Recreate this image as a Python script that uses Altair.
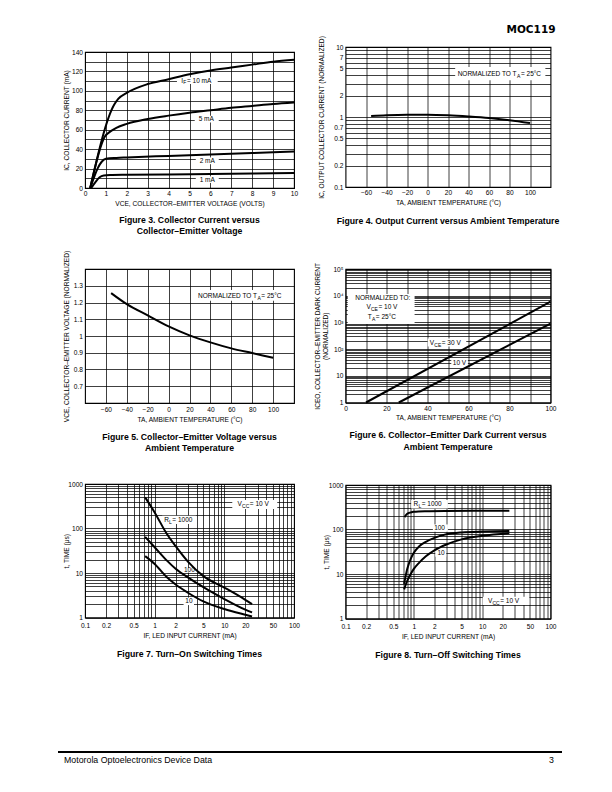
import altair as alt
import pandas as pd

FONT = "Liberation Sans"
HFONT = "DejaVu Sans"
LS = 6.6   # tick labels
TS = 6.6   # axis titles
CS = 8.7   # captions
AS = 6.5   # annotations
SUB = 5.0  # subscript size

# ---------------- page text ----------------
header_text = ["MOC119"]
footer_left = ["Motorola Optoelectronics Device Data"]
footer_right = ["3"]

# ---------------- Figure 3 ----------------
f3_x_10 = [0.25, 1.4, 1.6, 2, 3, 4, 5, 6, 7, 8, 9, 10]
f3_y_10 = [0, 86, 92, 98, 107, 112, 117, 121, 124, 127, 130, 132]
f3_x_5 = [0.25, 0.95, 1.2, 1.5, 2, 3, 4, 5, 6, 7, 8, 9, 10]
f3_y_5 = [0, 53, 58, 62, 66, 71, 74.5, 77.5, 80, 82.5, 84.5, 86.5, 88]
f3_x_2 = [0.25, 0.45, 0.6, 0.8, 1.0, 1.5, 2, 4, 6, 8, 10]
f3_y_2 = [0, 12, 20, 27, 30, 31, 31.5, 33, 34.5, 36, 37.5]
f3_x_1 = [0.3, 0.5, 0.7, 0.9, 1.2, 2, 4, 6, 8, 10]
f3_y_1 = [0, 6, 11, 12.8, 13.3, 13.6, 14, 14.5, 15, 15.5]
f3_xticks = [0, 1, 2, 3, 4, 5, 6, 7, 8, 9, 10]
f3_ygrid = [0, 10, 20, 30, 40, 50, 60, 70, 80, 90, 100, 110, 120, 130, 140]
f3_lbl_pre = ["I", "5 mA", "2 mA", "1 mA"]
f3_lbl_sub = ["F", "", "", ""]
f3_lbl_post = [" = 10 mA", "", "", ""]
f3_lbl_x = [5.37, 5.8, 5.85, 5.85]
f3_lbl_y = [110.5, 71, 28, 8.6]
f3_box_x1 = [4.4, 5.25, 5.3, 5.3]
f3_box_x2 = [6.35, 6.4, 6.4, 6.4]
f3_box_y1 = [107, 67.5, 24.5, 5.2]
f3_box_y2 = [114, 74.5, 31.5, 12]

# ---------------- Figure 4 ----------------
f4_t = [-55, -40, -20, 0, 20, 40, 60, 80, 100]
f4_ic = [1.03, 1.06, 1.08, 1.08, 1.06, 1.02, 0.97, 0.9, 0.82]
f4_xticks = [-60, -40, -20, 0, 20, 40, 60, 80, 100]
f4_ygrid = [0.1, 0.2, 0.3, 0.4, 0.5, 0.6, 0.7, 0.8, 0.9, 1, 2, 3, 4, 5, 6, 7, 8, 9, 10]
f4_ylabels = [0.1, 0.2, 0.5, 0.7, 1, 2, 5, 7, 10]
f4_lbl_pre = ["NORMALIZED TO T"]
f4_lbl_sub = ["A"]
f4_lbl_post = [" = 25°C"]
f4_lbl_x = [71]
f4_lbl_y = [4.1]
f4_box_x1 = [27]
f4_box_x2 = [115]
f4_box_y1 = [3.35]
f4_box_y2 = [5.2]

# ---------------- Figure 5 ----------------
f5_t = [-55, -40, -20, 0, 20, 40, 60, 80, 100]
f5_v = [1.256, 1.19, 1.123, 1.057, 1.004, 0.962, 0.926, 0.898, 0.87]
f5_xticks = [-60, -40, -20, 0, 20, 40, 60, 80, 100]
f5_yticks = [0.7, 0.8, 0.9, 1, 1.1, 1.2, 1.3]
f5_lbl_pre = ["NORMALIZED TO T"]
f5_lbl_sub = ["A"]
f5_lbl_post = [" = 25°C"]
f5_lbl_x = [69]
f5_lbl_y = [1.24]
f5_box_x1 = [26]
f5_box_x2 = [112]
f5_box_y1 = [1.21]
f5_box_y2 = [1.275]

# ---------------- Figure 6 ----------------
f6_t_30 = [10, 100]
f6_i_30 = [1, 6000]
f6_t_10 = [26, 100]
f6_i_10 = [1, 900]
f6_xgrid = [0, 10, 20, 30, 40, 50, 60, 70, 80, 90, 100]
f6_ygrid = [1, 2, 3, 4, 5, 6, 7, 8, 9,
            10, 20, 30, 40, 50, 60, 70, 80, 90,
            100, 200, 300, 400, 500, 600, 700, 800, 900,
            1000, 2000, 3000, 4000, 5000, 6000, 7000, 8000, 9000,
            10000, 20000, 30000, 40000, 50000, 60000, 70000, 80000, 90000, 100000]
f6_ylabel_v = [1, 10, 100, 1000, 10000, 100000]
f6_ylabel_t = ["1", "10", "10²", "10³", "10⁴", "10⁵"]
f6_lbl_pre = ["NORMALIZED TO:", "V", "T", "V", "10 V"]
f6_lbl_sub = ["", "CE", "A", "CE", ""]
f6_lbl_post = ["", " = 10 V", " = 25°C", " = 30 V", ""]
f6_lbl_x = [18.2, 18.2, 18.2, 49.1, 55.6]
f6_lbl_y = [8100, 3800, 1550, 170, 29]
f6_box_x1 = [1.1, 40.1, 51.6]
f6_box_x2 = [33.7, 58.9, 59.7]
f6_box_y1 = [870, 126, 21]
f6_box_y2 = [11500, 250, 42]

# ---------------- Figure 7 ----------------
f7_if = [0.73, 1, 1.5, 2, 3, 5, 10, 20, 25]
f7_t_1000 = [500, 230, 75, 40, 18, 8.5, 4.7, 2.5, 2.0]
f7_t_100 = [65, 38, 19, 12.5, 8, 4.8, 2.6, 1.5, 1.3]
f7_t_10 = [24, 16, 8, 5.5, 3.6, 2.3, 1.55, 1.15, 1.05]
f7_lbl_pre = ["R", "100", "10", "V"]
f7_lbl_sub = ["L", "", "", "CC"]
f7_lbl_post = [" = 1000", "", "", " = 10 V"]
f7_lbl_x = [2.25, 3.15, 3.1, 26.7]
f7_lbl_y = [157, 11.6, 2.3, 347]
f7_box_x1 = [1.28, 2.75, 2.6, 13]
f7_box_x2 = [3.9, 3.6, 3.67, 57.5]
f7_box_y1 = [126, 10.2, 1.9, 275]
f7_box_y2 = [194, 13.0, 2.8, 437]

# ---------------- Figure 8 ----------------
f8_if_1000 = [0.73, 0.8, 0.9, 1.0, 1.5, 3, 10, 25]
f8_t_1000 = [190, 225, 242, 250, 258, 262, 264, 265]
f8_if = [0.72, 0.8, 0.9, 1.0, 1.2, 1.5, 2, 3, 5, 10, 25]
f8_t_100 = [6, 13, 22, 30, 42, 53, 65, 78, 86, 90, 92]
f8_t_10 = [4.5, 7, 10, 13, 18, 25, 34, 46, 60, 72, 82]
f8_lbl_pre = ["R", "100", "10", "V"]
f8_lbl_sub = ["L", "", "", "CC"]
f8_lbl_post = [" = 1000", "", "", " = 10 V"]
f8_lbl_x = [1.64, 2.38, 2.5, 21.2]
f8_lbl_y = [374, 110, 30, 2.45]
f8_box_x1 = [0.915, 1.9, 2.06, 10.2]
f8_box_x2 = [3.15, 3.15, 2.98, 49]
f8_box_y1 = [298, 89, 24.5, 2.0]
f8_box_y2 = [460, 130, 36, 3.07]

LOGX_GRID = [0.1, 0.2, 0.3, 0.4, 0.5, 0.6, 0.7, 0.8, 0.9,
             1, 2, 3, 4, 5, 6, 7, 8, 9,
             10, 20, 30, 40, 50, 60, 70, 80, 90, 100]
LOGX_LABELS = [0.1, 0.2, 0.5, 1, 2, 5, 10, 20, 50, 100]
LOGY_GRID = [1, 2, 3, 4, 5, 6, 7, 8, 9,
             10, 20, 30, 40, 50, 60, 70, 80, 90,
             100, 200, 300, 400, 500, 600, 700, 800, 900, 1000]
LOGY_LABELS = [1, 10, 100, 1000]

# Arial / Liberation Sans advance widths (em) used to centre the split labels
AW = {"A": .667, "C": .722, "D": .722, "E": .667, "F": .611, "I": .278, "L": .556,
      "M": .833, "N": .722, "O": .778, "R": .722, "T": .611, "V": .667, "Z": .611,
      " ": .278, "=": .584, "m": .833, "°": .4, ":": .278}


def tw(s, size):
    return sum(AW.get(c, .556) for c in s) * size


def show_only(vals):
    return "indexof([" + ",".join(repr(v) for v in vals) + "], datum.value) >= 0 ? datum.label : ''"


def lines_df(series):
    rows = []
    for name, xs, ys in series:
        for a, b in zip(xs, ys):
            rows.append({"x": a, "y": b, "s": name})
    return pd.DataFrame(rows)


def caption(lines, off):
    return alt.TitleParams(text=lines, orient="bottom", anchor="middle", frame="group",
                           font=FONT, fontSize=CS, fontWeight="bold", color="black",
                           offset=off, lineHeight=11.5)


def label_layers(pre, sub, post, lx, ly, X, Y):
    out = []
    for p, s, q, a, b in zip(pre, sub, post, lx, ly):
        df = pd.DataFrame({"x": [a], "y": [b], "p": [p], "s": [s], "q": [q]})
        if not s:
            out.append(alt.Chart(df).mark_text(font=FONT, fontSize=AS, color="black",
                                               align="center", baseline="middle").encode(
                x=X, y=Y, text="p:N"))
            continue
        w1, w2, w3 = tw(p, AS), tw(s, SUB) + 0.7, tw(q, AS)
        start = -(w1 + w2 + w3) / 2
        out.append(alt.Chart(df).mark_text(font=FONT, fontSize=AS, color="black", align="left",
                                           baseline="middle", dx=start).encode(x=X, y=Y, text="p:N"))
        out.append(alt.Chart(df).mark_text(font=FONT, fontSize=SUB, color="black", align="left",
                                           baseline="middle", dx=start + w1 + 0.2, dy=1.8).encode(
            x=X, y=Y, text="s:N"))
        out.append(alt.Chart(df).mark_text(font=FONT, fontSize=AS, color="black", align="left",
                                           baseline="middle", dx=start + w1 + w2).encode(
            x=X, y=Y, text="q:N"))
    return out


def panel(ldf, bx, lbl, xs, ys, xa, ya, w, h, cap, off=9):
    X = alt.X("x:Q", scale=xs, axis=xa)
    Y = alt.Y("y:Q", scale=ys, axis=ya)
    lines = alt.Chart(ldf).mark_line(color="black", strokeWidth=2, interpolate="monotone").encode(
        x=X, y=Y, detail="s:N")
    boxes = alt.Chart(pd.DataFrame(bx)).mark_rect(color="white").encode(
        x=alt.X("x1:Q", scale=xs, axis=xa), x2="x2:Q",
        y=alt.Y("y1:Q", scale=ys, axis=ya), y2="y2:Q")
    texts = label_layers(*lbl, X, Y)
    return alt.layer(boxes, lines, *texts).properties(width=w, height=h, title=caption(cap, off))


# ---- Fig 3
fig3 = panel(
    lines_df([("10", f3_x_10, f3_y_10), ("5", f3_x_5, f3_y_5), ("2", f3_x_2, f3_y_2), ("1", f3_x_1, f3_y_1)]),
    {"x1": f3_box_x1, "x2": f3_box_x2, "y1": f3_box_y1, "y2": f3_box_y2},
    (f3_lbl_pre, f3_lbl_sub, f3_lbl_post, f3_lbl_x, f3_lbl_y),
    alt.Scale(domain=[0, 10], nice=False), alt.Scale(domain=[0, 140], nice=False),
    alt.Axis(values=f3_xticks, format="~r", title="VCE, COLLECTOR–EMITTER VOLTAGE (VOLTS)"),
    alt.Axis(values=f3_ygrid, labelExpr="datum.value % 20 == 0 ? datum.label : ''",
             title="IC, COLLECTOR CURRENT (mA)", titlePadding=2),
    209, 136, ["Figure 3. Collector Current versus", "Collector–Emitter Voltage"])

# ---- Fig 4
fig4 = panel(
    lines_df([("a", f4_t, f4_ic)]),
    {"x1": f4_box_x1, "x2": f4_box_x2, "y1": f4_box_y1, "y2": f4_box_y2},
    (f4_lbl_pre, f4_lbl_sub, f4_lbl_post, f4_lbl_x, f4_lbl_y),
    alt.Scale(domain=[-80, 120], nice=False), alt.Scale(type="log", domain=[0.1, 10], nice=False),
    alt.Axis(values=f4_xticks, format="~r", title="TA, AMBIENT TEMPERATURE (°C)"),
    alt.Axis(values=f4_ygrid, format="~r", labelExpr=show_only(f4_ylabels),
             title="IC, OUTPUT COLLECTOR CURRENT (NORMALIZED)", titlePadding=9),
    205, 140, ["Figure 4. Output Current versus Ambient Temperature"], off=11)

# ---- Fig 5
fig5 = panel(
    lines_df([("a", f5_t, f5_v)]),
    {"x1": f5_box_x1, "x2": f5_box_x2, "y1": f5_box_y1, "y2": f5_box_y2},
    (f5_lbl_pre, f5_lbl_sub, f5_lbl_post, f5_lbl_x, f5_lbl_y),
    alt.Scale(domain=[-80, 120], nice=False), alt.Scale(domain=[0.6, 1.4], nice=False),
    alt.Axis(values=f5_xticks, format="~r", title="TA, AMBIENT TEMPERATURE (°C)", labelPadding=3.5),
    alt.Axis(values=f5_yticks, format="~r", title="VCE, COLLECTOR–EMITTER VOLTAGE (NORMALIZED)"),
    209, 134, ["Figure 5. Collector–Emitter Voltage versus", "Ambient Temperature"], off=10)

# ---- Fig 6
f6_expr = " : ".join("datum.value == %r ? '%s'" % (v, t) for v, t in zip(f6_ylabel_v, f6_ylabel_t)) + " : ''"
fig6 = panel(
    lines_df([("30", f6_t_30, f6_i_30), ("10", f6_t_10, f6_i_10)]),
    {"x1": f6_box_x1, "x2": f6_box_x2, "y1": f6_box_y1, "y2": f6_box_y2},
    (f6_lbl_pre, f6_lbl_sub, f6_lbl_post, f6_lbl_x, f6_lbl_y),
    alt.Scale(domain=[0, 100], nice=False), alt.Scale(type="log", domain=[1, 100000], nice=False),
    alt.Axis(values=f6_xgrid, format="~r", labelExpr="datum.value % 20 == 0 ? datum.label : ''",
             title="TA, AMBIENT TEMPERATURE (°C)"),
    alt.Axis(values=f6_ygrid, labelExpr=f6_expr,
             title=["ICEO, COLLECTOR–EMITTER DARK CURRENT", "(NORMALIZED)"]),
    205, 133.5, ["Figure 6. Collector–Emitter Dark Current versus", "Ambient Temperature"], off=10)

# ---- Fig 7
fig7 = panel(
    lines_df([("1000", f7_if, f7_t_1000), ("100", f7_if, f7_t_100), ("10", f7_if, f7_t_10)]),
    {"x1": f7_box_x1, "x2": f7_box_x2, "y1": f7_box_y1, "y2": f7_box_y2},
    (f7_lbl_pre, f7_lbl_sub, f7_lbl_post, f7_lbl_x, f7_lbl_y),
    alt.Scale(type="log", domain=[0.1, 100], nice=False), alt.Scale(type="log", domain=[1, 1000], nice=False),
    alt.Axis(values=LOGX_GRID, format="~r", labelExpr=show_only(LOGX_LABELS), title="IF, LED INPUT CURRENT (mA)",
             labelPadding=4.5, titlePadding=4),
    alt.Axis(values=LOGY_GRID, format="~r", labelExpr=show_only(LOGY_LABELS), title="t, TIME (μs)",
             titlePadding=-2),
    209, 133.5, ["Figure 7. Turn–On Switching Times"], off=11)

# ---- Fig 8
fig8 = panel(
    lines_df([("1000", f8_if_1000, f8_t_1000), ("100", f8_if, f8_t_100), ("10", f8_if, f8_t_10)]),
    {"x1": f8_box_x1, "x2": f8_box_x2, "y1": f8_box_y1, "y2": f8_box_y2},
    (f8_lbl_pre, f8_lbl_sub, f8_lbl_post, f8_lbl_x, f8_lbl_y),
    alt.Scale(type="log", domain=[0.1, 100], nice=False), alt.Scale(type="log", domain=[1, 1000], nice=False),
    alt.Axis(values=LOGX_GRID, format="~r", labelExpr=show_only(LOGX_LABELS), title="IF, LED INPUT CURRENT (mA)",
             labelPadding=4.5, titlePadding=4),
    alt.Axis(values=LOGY_GRID, format="~r", labelExpr=show_only(LOGY_LABELS), title="t, TIME (μs)",
             titlePadding=-1),
    205, 133.5, ["Figure 8. Turn–Off Switching Times"], off=11)

clear = alt.ViewBackground(stroke="transparent")

spacer = alt.Chart(pd.DataFrame({"t": [""]})).mark_text(fontSize=4).encode(
    text="t:N", x=alt.value(10), y=alt.value(20)).properties(width=209, height=43, view=clear)

header = alt.Chart(pd.DataFrame({"t": header_text})).mark_text(
    font=HFONT, fontSize=10.5, fontWeight="bold", align="right", baseline="alphabetic", color="black").encode(
    text="t:N", x=alt.value(210), y=alt.value(23.5)).properties(width=205, height=38, view=clear)

f_rule = alt.Chart(pd.DataFrame({"t": footer_left})).mark_rule(color="black", strokeWidth=1.8).encode(
    x=alt.value(-27), x2=alt.value(477), y=alt.value(1))
f_left = alt.Chart(pd.DataFrame({"t": footer_left})).mark_text(
    font=FONT, fontSize=8.8, align="left", baseline="alphabetic", color="black").encode(
    text="t:N", x=alt.value(-21), y=alt.value(12))
f_right = alt.Chart(pd.DataFrame({"t": footer_right})).mark_text(
    font=FONT, fontSize=8.8, align="right", baseline="alphabetic", color="black").encode(
    text="t:N", x=alt.value(469), y=alt.value(12))
footer = alt.layer(f_rule, f_left, f_right).properties(width=209, height=20, view=clear)

left_col = alt.vconcat(spacer, alt.vconcat(fig3, fig5, fig7, spacing=81, bounds="flush"),
                       spacing=0, bounds="flush")
right_col = alt.vconcat(header, alt.vconcat(fig4, fig6, fig8, spacing=82, bounds="flush"),
                        spacing=0, bounds="flush")
main = alt.hconcat(left_col, right_col, spacing=260.5, bounds="flush")
chart = alt.vconcat(main, footer, spacing=742, bounds="flush").properties(
    padding={"left": 48, "top": 0, "right": 4, "bottom": 0}
).configure(background="white").configure_view(
    stroke="black", strokeWidth=1.1
).configure_axis(
    domain=False, ticks=False, grid=True, gridColor="black", gridWidth=0.75, gridOpacity=1,
    labelFont=FONT, labelFontSize=LS, labelColor="black", labelPadding=2.5,
    labelOverlap=False, labelFlush=False, labelBound=False,
    titleFont=FONT, titleFontSize=TS, titleFontWeight="normal", titleColor="black", titlePadding=3
).configure_axisY(titlePadding=4)

chart.save("out.html", embed_options={"renderer": "svg", "actions": False})
